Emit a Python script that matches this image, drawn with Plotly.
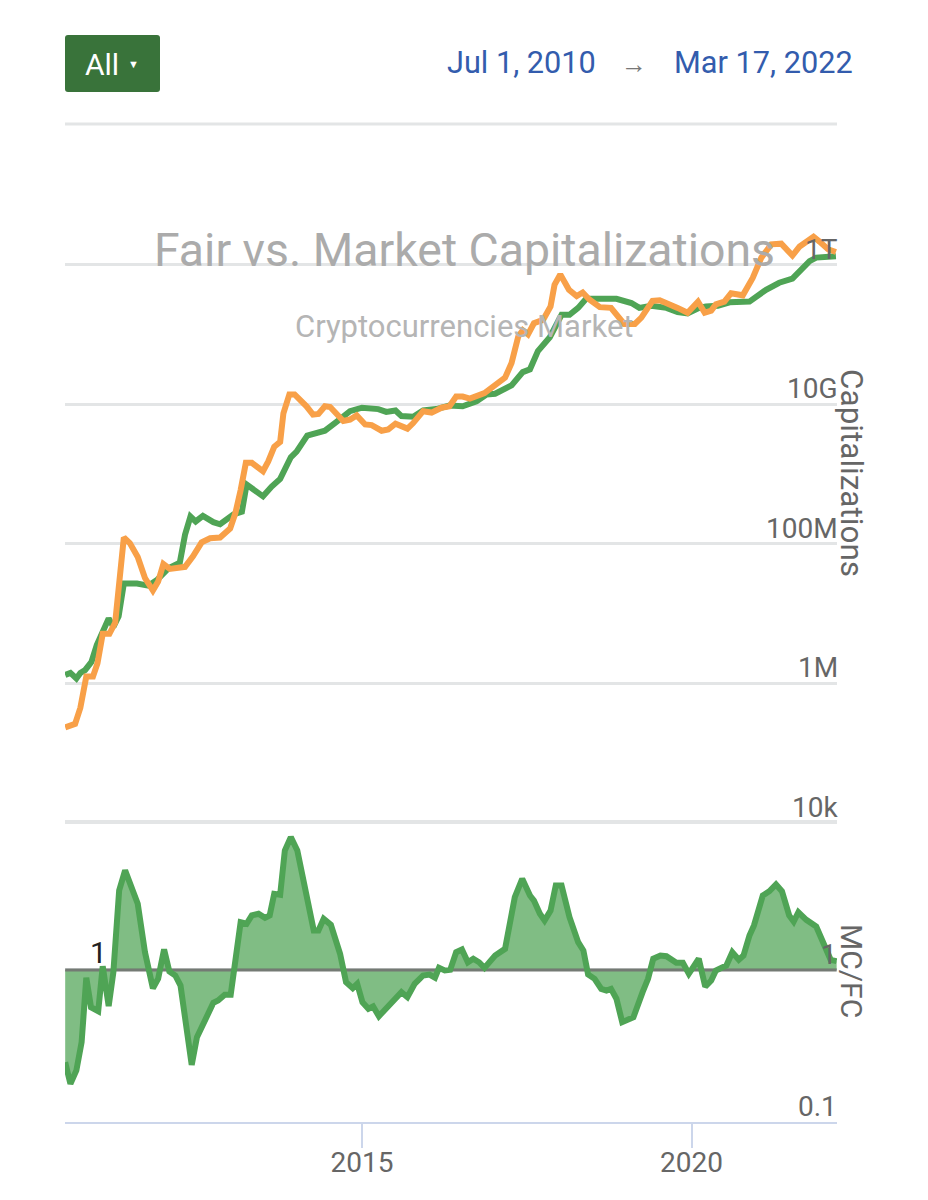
import numpy as np
import pandas as pd
import plotly.graph_objects as go

# Values. Dates are decimal years; capitalizations and
# the ratio are read as log10 of the value on the chart's log axes.
market_years = [2010.50,2010.65,2010.73,2010.82,2010.92,2010.99,2011.07,2011.17,2011.26,2011.31,2011.39,2011.48,2011.60,2011.71,2011.83,2011.91,2011.99,2012.09,2012.32,2012.44,2012.57,2012.70,2012.85,2013.00,2013.08,2013.16,2013.24,2013.33,2013.50,2013.58,2013.67,2013.76,2013.81,2013.90,2013.98,2014.16,2014.26,2014.34,2014.44,2014.52,2014.72,2014.82,2014.92,2015.05,2015.15,2015.30,2015.40,2015.51,2015.69,2015.78,2015.93,2016.06,2016.21,2016.33,2016.43,2016.53,2016.64,2016.86,2017.02,2017.17,2017.27,2017.37,2017.44,2017.52,2017.61,2017.75,2017.86,2017.92,2018.01,2018.14,2018.26,2018.35,2018.45,2018.61,2018.78,2018.88,2018.98,2019.14,2019.24,2019.41,2019.52,2019.79,2019.94,2020.10,2020.20,2020.30,2020.37,2020.50,2020.60,2020.78,2020.93,2021.06,2021.21,2021.36,2021.53,2021.64,2021.85,2021.94,2022.07,2022.19]
market_log10 = [5.37,5.42,5.65,6.10,6.10,6.29,6.71,6.71,6.87,7.30,8.09,8.01,7.81,7.51,7.33,7.46,7.71,7.64,7.67,7.82,8.02,8.08,8.09,8.22,8.44,8.77,9.16,9.16,9.04,9.18,9.39,9.46,9.87,10.14,10.14,9.97,9.85,9.86,9.97,9.96,9.76,9.78,9.84,9.71,9.70,9.62,9.64,9.72,9.65,9.73,9.90,9.88,9.95,9.97,10.11,10.11,10.08,10.16,10.27,10.38,10.59,10.97,11.06,11.00,11.16,11.21,11.40,11.71,11.86,11.64,11.55,11.60,11.50,11.39,11.38,11.26,11.15,11.15,11.24,11.48,11.49,11.38,11.31,11.47,11.31,11.34,11.43,11.47,11.59,11.56,11.81,12.10,12.29,12.30,12.13,12.26,12.40,12.33,12.22,12.18]

fair_years = [2010.50,2010.58,2010.67,2010.73,2010.80,2010.90,2010.98,2011.06,2011.16,2011.23,2011.31,2011.39,2011.59,2011.76,2011.89,2012.07,2012.24,2012.32,2012.40,2012.48,2012.59,2012.75,2012.85,2013.05,2013.18,2013.25,2013.50,2013.63,2013.76,2013.92,2014.01,2014.17,2014.44,2014.62,2014.82,2015.00,2015.25,2015.37,2015.51,2015.60,2015.78,2015.93,2016.13,2016.33,2016.53,2016.74,2016.89,2017.02,2017.27,2017.44,2017.55,2017.67,2017.85,2018.03,2018.15,2018.28,2018.40,2018.61,2018.86,2019.09,2019.21,2019.39,2019.62,2019.79,2019.94,2020.12,2020.22,2020.40,2020.58,2020.88,2021.13,2021.33,2021.53,2021.79,2021.89,2022.19]
fair_log10 = [6.12,6.15,6.07,6.15,6.19,6.31,6.55,6.74,6.93,6.81,6.96,7.43,7.43,7.40,7.48,7.65,7.73,8.13,8.39,8.32,8.40,8.31,8.28,8.42,8.46,8.85,8.68,8.82,8.93,9.24,9.32,9.55,9.62,9.75,9.90,9.95,9.93,9.89,9.91,9.83,9.82,9.91,9.93,9.98,9.97,10.04,10.14,10.15,10.27,10.46,10.50,10.76,10.96,11.28,11.28,11.38,11.51,11.51,11.51,11.45,11.38,11.41,11.38,11.32,11.30,11.38,11.40,11.41,11.46,11.47,11.64,11.74,11.80,12.05,12.10,12.12]

ratio_years = [2010.50,2010.58,2010.67,2010.75,2010.82,2010.89,2011.00,2011.07,2011.16,2011.23,2011.32,2011.41,2011.60,2011.71,2011.83,2011.91,2012.00,2012.08,2012.17,2012.25,2012.42,2012.50,2012.75,2012.82,2012.92,2013.01,2013.16,2013.25,2013.33,2013.43,2013.53,2013.60,2013.67,2013.76,2013.83,2013.92,2014.02,2014.14,2014.27,2014.34,2014.42,2014.53,2014.67,2014.76,2014.86,2014.93,2015.01,2015.10,2015.17,2015.26,2015.60,2015.69,2015.80,2015.93,2016.03,2016.11,2016.17,2016.26,2016.34,2016.43,2016.52,2016.61,2016.69,2016.78,2016.86,2017.02,2017.17,2017.32,2017.43,2017.55,2017.61,2017.70,2017.77,2017.86,2017.94,2018.03,2018.15,2018.28,2018.36,2018.43,2018.53,2018.63,2018.71,2018.78,2018.86,2018.95,2019.12,2019.26,2019.34,2019.42,2019.53,2019.62,2019.77,2019.87,2019.96,2020.11,2020.21,2020.30,2020.37,2020.53,2020.62,2020.72,2020.79,2020.88,2020.95,2021.08,2021.18,2021.28,2021.37,2021.48,2021.55,2021.62,2021.74,2021.89,2022.04,2022.11,2022.20]
ratio_log10 = [-0.607,-0.749,-0.661,-0.475,-0.051,-0.245,-0.271,0.025,-0.238,-0.014,0.523,0.655,0.436,0.117,-0.120,-0.058,0.135,-0.010,-0.036,-0.102,-0.624,-0.442,-0.216,-0.201,-0.163,-0.163,0.314,0.304,0.359,0.370,0.343,0.359,0.501,0.495,0.786,0.874,0.786,0.512,0.260,0.260,0.337,0.297,0.107,-0.080,-0.120,-0.091,-0.212,-0.255,-0.240,-0.304,-0.146,-0.179,-0.091,-0.036,-0.030,-0.051,0.014,-0.003,0.001,0.117,0.135,0.051,0.074,0.051,0.014,0.095,0.139,0.479,0.600,0.490,0.457,0.370,0.326,0.391,0.556,0.556,0.347,0.183,0.128,-0.030,-0.058,-0.124,-0.135,-0.124,-0.189,-0.343,-0.311,-0.146,-0.058,0.074,0.095,0.091,0.047,0.047,-0.025,0.074,-0.109,-0.069,-0.003,0.030,0.117,0.067,0.095,0.227,0.293,0.490,0.518,0.563,0.518,0.359,0.319,0.380,0.330,0.286,0.128,0.067,0.058]

cap_ticks = [1e4, 1e6, 1e8, 1e10, 1e12, 1e14]
cap_labels = ["10k", "1M", "100M", "10G", "1T", ""]
ratio_ticks = [0.1, 1]
ratio_labels = ["0.1", "1"]
year_ticks = ["2015-01-01", "2020-01-01"]
year_labels = ["2015", "2020"]

assert len(market_years) == len(market_log10)
assert len(fair_years) == len(fair_log10)
assert len(ratio_years) == len(ratio_log10)


def to_dates(years):
    out = []
    for y in years:
        base = int(y)
        start = pd.Timestamp(year=base, month=1, day=1)
        out.append((start + pd.Timedelta(days=(y - base) * 365.25)).strftime("%Y-%m-%d"))
    return out


W, H = 928, 1200
L, R = 65, 837
TOP, MID, BOT = 125, 823, 1122
GREEN, ORANGE = "#4FA455", "#F8A048"
GRID, AXIS, TXT = "#E3E5E6", "#CCD6EB", "#666666"
FONT = "Roboto"


def px(p):
    return p / W


def py(p):
    return 1 - p / H


fig = go.Figure()
fig.add_trace(go.Scatter(x=to_dates(fair_years), y=10 ** np.array(fair_log10), mode="lines",
                         name="Fair", line=dict(color=GREEN, width=6), yaxis="y"))
fig.add_trace(go.Scatter(x=to_dates(market_years), y=10 ** np.array(market_log10), mode="lines",
                         name="Market", line=dict(color=ORANGE, width=6), yaxis="y"))
rd = to_dates(ratio_years)
fig.add_trace(go.Scatter(x=rd, y=[1] * len(rd), mode="lines", name="Parity",
                         line=dict(color="#747A74", width=3), yaxis="y2"))
fig.add_trace(go.Scatter(x=rd, y=10 ** np.array(ratio_log10), mode="lines", name="MC/FC",
                         line=dict(color=GREEN, width=6), fill="tonexty",
                         fillcolor="rgba(79,164,85,0.72)", yaxis="y2"))


def note(text, x, y, size, color, **kw):
    return dict(text=text, xref="paper", x=px(x), yref="paper", y=py(y), xanchor="center", yanchor="middle",
                showarrow=False, font=dict(size=size, color=color, family=FONT), **kw)


ann = []
for v, t in zip(cap_ticks, cap_labels):
    if t:
        ann.append(dict(text=t, xref="paper", x=px(R + 3), yref="y", y=np.log10(v), xanchor="right",
                        yanchor="bottom", yshift=-3, showarrow=False, font=dict(size=28, color=TXT, family=FONT)))
for v, t in zip(ratio_ticks, ratio_labels):
    ann.append(dict(text=t, xref="paper", x=px(R + 2), yref="y2", y=np.log10(v), xanchor="right",
                    yanchor="bottom", yshift=-3, showarrow=False, font=dict(size=28, color=TXT, family=FONT)))
ann += [
    dict(text="1", xref="paper", x=px(98), yref="y2", y=0, xanchor="center", yanchor="bottom", yshift=-2,
         showarrow=False, font=dict(size=30, color="#222222", family=FONT)),
    note("Fair vs. Market Capitalizations", 464, 250, 46.4, "#ABABAB"),
    note("Cryptocurrencies Market", 464, 326, 31, "#B5B5B5"),
    note("Capitalizations", 852, 473, 31.5, TXT, textangle=90),
    note("MC/FC", 852, 971, 30, TXT, textangle=90),
    note("All", 102, 64, 30, "#FFFFFF"),
    note("▼", 133, 64, 11, "#FFFFFF"),
    note("Jul 1, 2010", 521, 63, 30.7, "#335CAD"),
    note("→", 634, 64, 26, "#777777"),
    note("Mar 17, 2022", 763, 63, 30.7, "#335CAD"),
]

fig.update_layout(
    width=W, height=H, margin=dict(l=0, r=0, t=0, b=0), autosize=False,
    paper_bgcolor="white", plot_bgcolor="white", showlegend=False,
    font=dict(family=FONT, color=TXT),
    xaxis=dict(domain=[px(L), px(R)], type="date", range=["2010-07-01", "2022-03-17"], anchor="y2",
               tickmode="array", tickvals=year_ticks, ticktext=year_labels, ticks="outside", ticklen=24,
               tickwidth=2, tickcolor=AXIS, showline=True, linecolor=AXIS, linewidth=2, showgrid=False,
               zeroline=False, ticklabelstandoff=-10, tickfont=dict(size=28, color=TXT, family=FONT)),
    yaxis=dict(domain=[py(MID), py(TOP)], type="log", range=[4, 14], tickmode="array", tickvals=cap_ticks,
               showticklabels=False, showgrid=True, gridcolor=GRID, gridwidth=3, zeroline=False, anchor="x"),
    yaxis2=dict(domain=[py(BOT), py(MID)], type="log", range=[-1, 0.967], tickmode="array",
                tickvals=ratio_ticks, showticklabels=False, showgrid=True, gridcolor=GRID, gridwidth=3,
                zeroline=False, anchor="x"),
    annotations=ann,
    shapes=[
        dict(type="path", xref="paper", yref="paper", layer="below",
             path=f"M {px(68)} {py(35)} L {px(157)} {py(35)} Q {px(160)} {py(35)} {px(160)} {py(38)} "
                  f"L {px(160)} {py(89)} Q {px(160)} {py(92)} {px(157)} {py(92)} L {px(68)} {py(92)} "
                  f"Q {px(65)} {py(92)} {px(65)} {py(89)} L {px(65)} {py(38)} Q {px(65)} {py(35)} {px(68)} {py(35)} Z",
             fillcolor="#39733A", line=dict(width=0)),
        dict(type="line", xref="paper", yref="paper", layer="below", x0=px(L), x1=px(R), y0=py(822), y1=py(822),
             line=dict(color=GRID, width=4)),
        dict(type="line", xref="paper", yref="paper", layer="below", x0=px(L), x1=px(R), y0=py(124), y1=py(124),
             line=dict(color=GRID, width=3)),
    ],
)
fig.write_html("out.html", config={"displayModeBar": False},
               post_script="document.body.style.margin='0';document.documentElement.style.overflow='hidden';")
